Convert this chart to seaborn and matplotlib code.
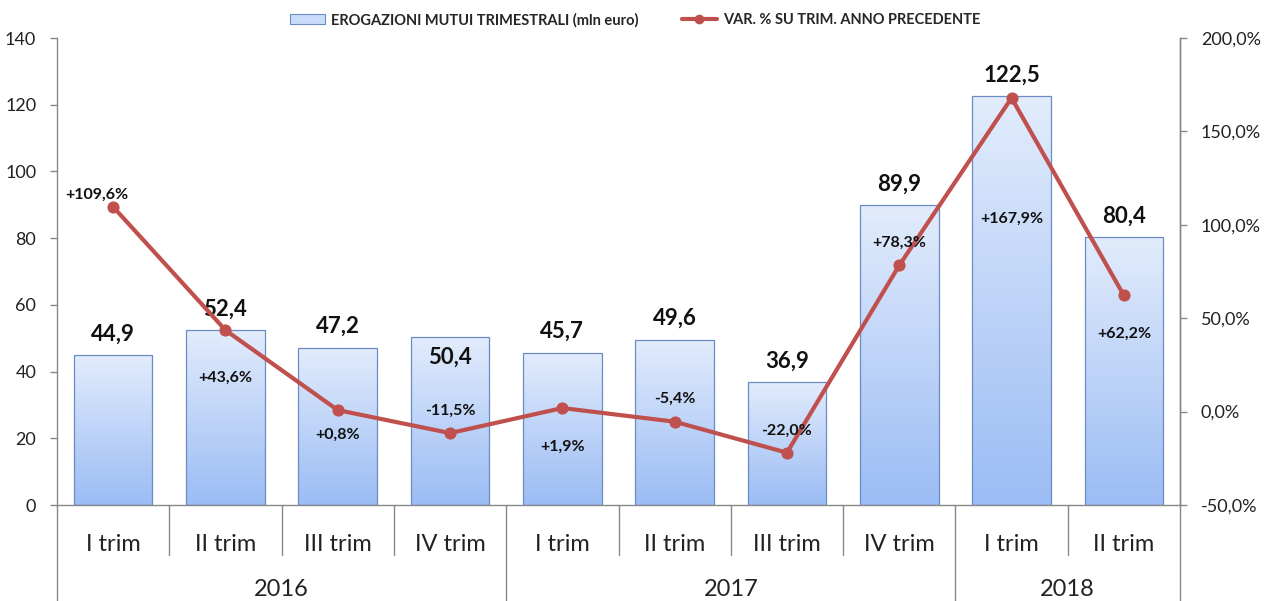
import numpy as np
import pandas as pd
import seaborn as sns
import matplotlib
matplotlib.use("Agg")
import matplotlib.pyplot as plt
import matplotlib.transforms as mtransforms
from matplotlib.patches import Patch
from matplotlib.lines import Line2D
from matplotlib.colors import LinearSegmentedColormap

# ---------------- data ----------------
quarters = ["I trim", "II trim", "III trim", "IV trim",
            "I trim", "II trim", "III trim", "IV trim",
            "I trim", "II trim"]
years = ["2016", "2017", "2018"]
quarters_per_year = [4, 4, 2]
erogazioni = [44.9, 52.4, 47.2, 50.4, 45.7, 49.6, 36.9, 89.9, 122.5, 80.4]
var_pct = [109.6, 43.6, 0.8, -11.5, 1.9, -5.4, -22.0, 78.3, 167.9, 62.2]
bar_label_name = "EROGAZIONI MUTUI TRIMESTRALI (mln euro)"
line_label_name = "VAR. % SU TRIM. ANNO PRECEDENTE"

# label placement (style: pixel offsets)
pct_offsets = [(-16, 12), (0, -48), (0, -25), (0, 22), (0, -39),
               (0, 23), (0, 22), (0, 23), (0, -121), (0, -38)]
val_offsets = [21, 21, 21, -20, 21, 21, 21, 21, 21, 21]

# ---------------- style ----------------
sns.set_theme(style="white")
plt.rcParams["font.family"] = ["Lato", "DejaVu Sans"]

W, H = 1272, 601
fig = plt.figure(figsize=(W / 100, H / 100), dpi=100)
L, R, T, B = 57, 1180, 38, 505
ax = fig.add_axes([L / W, 1 - B / H, (R - L) / W, (B - T) / H])

df = pd.DataFrame({"pos": list(range(len(erogazioni))), "val": erogazioni, "pct": var_pct})

edge_col = "#6a8bc4"
sns.barplot(data=df, x="pos", y="val", ax=ax, width=0.7, color="#c5d9f9",
            edgecolor=edge_col, linewidth=0.9, saturation=1)

cmap = LinearSegmentedColormap.from_list("g", ["#9bbcf4", "#e2ecfc"])
grad = np.linspace(0, 1, 256).reshape(-1, 1)
for p in ax.patches:
    x0, y0 = p.get_x(), p.get_y()
    w, h = p.get_width(), p.get_height()
    im = ax.imshow(grad, extent=[x0, x0 + w, y0, y0 + h], origin="lower",
                   aspect="auto", cmap=cmap, zorder=p.get_zorder() - 0.01)
    im.set_clip_path(p)
    p.set_facecolor("none")

ax.set_xlim(-0.5, len(erogazioni) - 0.5)
ax.set_ylim(0, 140)
ax.set_yticks(range(0, 141, 20))
ax.set_xlabel("")
ax.set_ylabel("")
ax.set_xticks(range(len(quarters)))
ax.set_xticklabels(quarters, fontsize=17, color="#222222")
ax.tick_params(axis="x", length=0, pad=21)
ax.tick_params(axis="y", length=5, width=1, color="#888888", direction="out",
               labelsize=13, labelcolor="#222222", pad=10, left=True)

for i, v in enumerate(erogazioni):
    ax.annotate(f"{v:.1f}".replace(".", ","), (i, v), xytext=(0, val_offsets[i]),
                textcoords="offset pixels", ha="center", va="center",
                fontsize=16, fontweight="bold", color="#111111", zorder=6)

# ---------------- line on secondary axis ----------------
ax2 = ax.twinx()
sns.lineplot(data=df, x="pos", y="pct", ax=ax2, color="#c0504d", linewidth=3,
             marker="o", markersize=8, markeredgecolor="#c0504d", zorder=5)
ax2.set_ylim(-50, 200)
ax2.set_yticks(range(-50, 201, 50))
ax2.set_yticklabels([f"{t:.1f}".replace(".", ",") + "%" for t in range(-50, 201, 50)])
ax2.set_ylabel("")
ax2.set_xlabel("")
ax2.set_xlim(-0.5, len(erogazioni) - 0.5)
ax2.tick_params(axis="y", length=5, width=1, color="#888888", direction="out",
                labelsize=13, labelcolor="#222222", pad=10, right=True)

for i, v in enumerate(var_pct):
    ax2.annotate(f"{v:+.1f}%".replace(".", ","), (i, v), xytext=pct_offsets[i],
                 textcoords="offset pixels", ha="center", va="center",
                 fontsize=11.5, fontweight="bold", color="#111111", zorder=7)

for a in (ax, ax2):
    for s in a.spines.values():
        s.set_color("#888888")
        s.set_linewidth(1)
    a.spines["top"].set_visible(False)
    a.grid(False)
ax2.spines["left"].set_visible(False)
ax2.spines["bottom"].set_visible(False)

# ---------------- multi-level x axis separators ----------------
trans = mtransforms.blended_transform_factory(ax.transData, ax.transAxes)
ah = B - T
short_y = -50 / ah
long_y = -(H - B) / ah
year_bounds = list(np.cumsum([0] + quarters_per_year) - 0.5)
for b in np.arange(-0.5, len(quarters), 1.0):
    yb = long_y if any(abs(b - yb_) < 1e-6 for yb_ in year_bounds) else short_y
    ax.plot([b, b], [0, yb], transform=trans, color="#888888", lw=1, clip_on=False)

start = 0
for yr, n in zip(years, quarters_per_year):
    ax.text(start + (n - 1) / 2, -85 / ah, yr, transform=trans, ha="center",
            va="center", fontsize=17, color="#222222")
    start += n

# ---------------- legend ----------------
handles = [Patch(facecolor="#c9dcf9", edgecolor=edge_col, linewidth=0.8),
           Line2D([0], [0], color="#c0504d", lw=3, marker="o", markersize=6)]
fig.legend(handles, [bar_label_name, line_label_name], loc="center",
           bbox_to_anchor=(635 / W, 1 - 20 / H), ncol=2, frameon=False,
           prop={"size": 10.5, "weight": "bold"}, handlelength=2.4, handleheight=0.7,
           columnspacing=3.0, handletextpad=0.4)

fig.savefig("out.png", dpi=100, facecolor="white")
